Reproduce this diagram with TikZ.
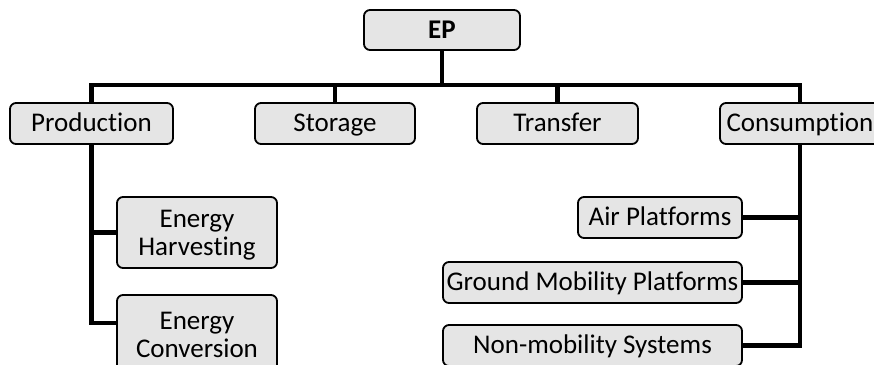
\documentclass[tikz,border=0pt]{standalone}
\usepackage{fontspec}
\setmainfont[Ligatures=NoCommon]{Carlito}
\begin{document}
\begin{tikzpicture}[x=1pt,y=-1pt,
  boxbase/.style={draw=black, line width=1.8pt, rounded corners=6pt, fill=black!10,
    inner sep=0pt, font=\fontsize{27}{28}\selectfont, align=center},
  box/.style={boxbase, text height=20pt, text depth=4pt},
  boxtwo/.style={boxbase, text depth=0pt},
  link/.style={line width=4.2pt, line cap=rect}]
\useasboundingbox (0,0) rectangle (874,364);
% top
\node[box, minimum width=156pt, minimum height=40pt, font=\fontsize{27}{28}\selectfont\bfseries] (ep) at (442,30) {EP};
% level 1
\node[box, minimum width=163pt, minimum height=41pt] (prod) at (91.5,123.5) {Production};
\node[box, minimum width=160pt, minimum height=41pt] (stor) at (335,123.5) {Storage};
\node[box, minimum width=161pt, minimum height=41pt] (tran) at (557.5,123.5) {Transfer};
\node[box, minimum width=160pt, minimum height=41pt] (cons) at (800,123.5) {Consumption};
% level 2 left
\node[boxtwo, minimum width=160pt, minimum height=71pt] (eh) at (197,232.5) {Energy\\Harvesting};
\node[boxtwo, minimum width=160pt, minimum height=80pt] (ec) at (197,335) {Energy\\Conversion};
% level 2 right
\node[box, minimum width=164pt, minimum height=41pt] (air) at (660,217.5) {Air Platforms};
\node[box, minimum width=299pt, minimum height=41pt] (gmp) at (592.5,282.5) {Ground Mobility Platforms};
\node[box, minimum width=299pt, minimum height=41pt] (nms) at (592.5,345.5) {Non-mobility Systems};
% connectors
\coordinate (bar) at (442,85);
\draw[link] (ep.south) -- (bar);
\draw[link] (prod.north) |- (bar) -| (cons.north);
\draw[link] (stor.north) |- (bar);
\draw[link] (tran.north) |- (bar);
\draw[link, line cap=butt] (prod.south) |- (eh.west);
\draw[link, line cap=butt] (prod.south) |- ([yshift=12pt]ec.west);
\draw[link, line cap=butt] (cons.south) |- (air.east);
\draw[link, line cap=butt] (cons.south) |- (gmp.east);
\draw[link, line cap=butt] (cons.south) |- (nms.east);
\end{tikzpicture}
\end{document}
